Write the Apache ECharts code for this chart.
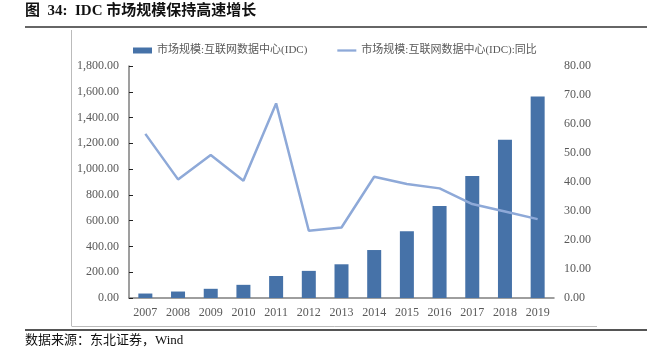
<!DOCTYPE html>
<html>
<head>
<meta charset="utf-8">
<script src="https://cdn.jsdelivr.net/npm/echarts@6/dist/echarts.min.js"></script>
<style>
  html, body { margin: 0; padding: 0; background: #fff; }
  #chart { width: 663px; height: 350px; }
</style>
</head>
<body>
<div id="chart"></div>
<script>
// China IDC market size (100 million yuan) and its year-on-year growth (%)
const years = ['2007', '2008', '2009', '2010', '2011', '2012', '2013', '2014', '2015', '2016', '2017', '2018', '2019'];
const marketSize = [34.7, 50.2, 71.4, 102.2, 170.8, 210.5, 261.6, 372.2, 518.6, 714.5, 946.1, 1228.0, 1562.5];
const growthRate = [56.6, 40.9, 49.3, 40.4, 67.1, 23.2, 24.3, 41.8, 39.3, 37.8, 32.4, 29.8, 27.2];
const seriesNames = ['市场规模:互联网数据中心(IDC)', '市场规模:互联网数据中心(IDC):同比'];

const serif = '"Liberation Serif", "Noto Sans CJK SC", serif';
const gray = '#595959';
const barColor = '#4672A8';
const lineColor = '#8EA9D8';

function fmt(v) {
  return v.toLocaleString('en-US', { minimumFractionDigits: 2, maximumFractionDigits: 2 });
}

const chart = echarts.init(document.getElementById('chart'), null, { renderer: 'canvas' });

chart.setOption({
  animation: false,
  backgroundColor: '#fff',
  grid: { left: 129, right: 109, top: 66, bottom: 52 },
  legend: {
    top: 40,
    left: 128,
    itemWidth: 19,
    itemHeight: 6,
    itemGap: 30,
    textStyle: { fontFamily: serif, fontSize: 11, color: gray },
    data: [
      { name: seriesNames[0], icon: 'rect' },
      { name: seriesNames[1], icon: 'path://M0,0H20V2.4H0Z', itemStyle: { color: lineColor } }
    ]
  },
  xAxis: {
    type: 'category',
    data: years,
    axisLine: { lineStyle: { color: '#7f7f7f', width: 1.5 } },
    axisTick: { inside: true, length: 4, lineStyle: { color: '#222' } },
    axisLabel: { fontFamily: serif, fontSize: 12, color: gray, margin: 9 }
  },
  yAxis: [
    {
      type: 'value',
      min: 0, max: 1800, interval: 200,
      axisLine: { show: true, lineStyle: { color: '#7f7f7f', width: 1.5 } },
      axisTick: { show: true, inside: true, length: 4, lineStyle: { color: '#222' } },
      splitLine: { show: false },
      axisLabel: { fontFamily: serif, fontSize: 12, color: gray, margin: 10, formatter: fmt }
    },
    {
      type: 'value',
      min: 0, max: 80, interval: 10,
      axisLine: { show: false },
      axisTick: { show: false },
      splitLine: { show: false },
      axisLabel: { fontFamily: serif, fontSize: 12, color: gray, margin: 10, formatter: fmt }
    }
  ],
  series: [
    {
      name: seriesNames[0],
      type: 'bar',
      data: marketSize,
      barWidth: 14,
      itemStyle: { color: barColor }
    },
    {
      name: seriesNames[1],
      type: 'line',
      yAxisIndex: 1,
      data: growthRate,
      symbol: 'none',
      lineStyle: { color: lineColor, width: 2.5 },
      itemStyle: { color: lineColor }
    }
  ],
  graphic: [
    {
      type: 'text', left: 25, top: 4,
      style: { text: '图  34:  IDC 市场规模保持高速增长', font: 'bold 15px ' + serif, fill: '#111' }
    },
    {
      type: 'line', shape: { x1: 25, y1: 27, x2: 647, y2: 27 },
      style: { stroke: '#333', lineWidth: 1.5 }
    },
    {
      type: 'line', shape: { x1: 71.5, y1: 30, x2: 71.5, y2: 326 },
      style: { stroke: '#bbb', lineWidth: 1 }
    },
    {
      type: 'line', shape: { x1: 71.5, y1: 326.5, x2: 597, y2: 326.5 },
      style: { stroke: '#bbb', lineWidth: 1 }
    },
    {
      type: 'line', shape: { x1: 25, y1: 330, x2: 647, y2: 330 },
      style: { stroke: '#555', lineWidth: 2 }
    },
    {
      type: 'text', left: 25, top: 334,
      style: { text: '数据来源：东北证券，Wind', font: '13px ' + serif, fill: '#111' }
    }
  ]
});
</script>
</body>
</html>
